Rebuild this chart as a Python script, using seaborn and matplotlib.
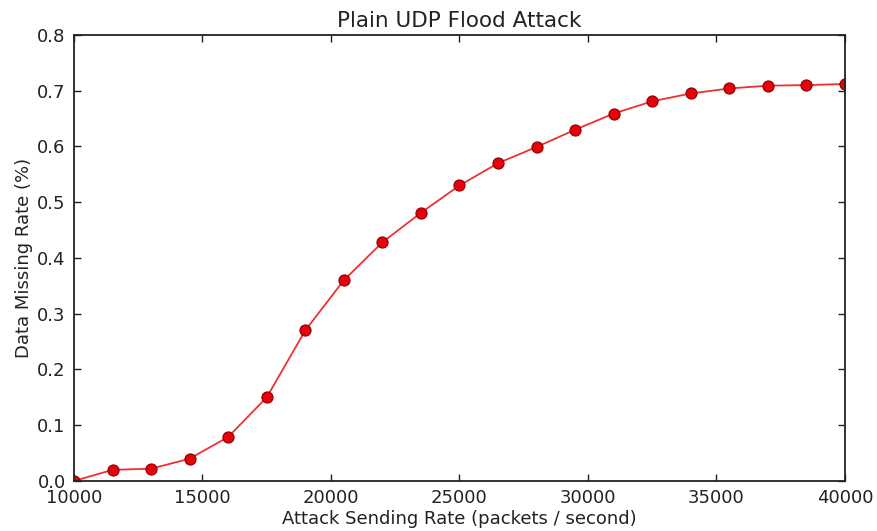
import matplotlib
matplotlib.use("Agg")
import matplotlib.pyplot as plt
import seaborn as sns
import pandas as pd

rate = [10000, 11500, 13000, 14500, 16000, 17500, 19000, 20500, 22000, 23500,
        25000, 26500, 28000, 29500, 31000, 32500, 34000, 35500, 37000, 38500, 40000]
missing = [0.0, 0.02, 0.022, 0.04, 0.079, 0.15, 0.27, 0.36, 0.428, 0.481,
           0.53, 0.57, 0.599, 0.63, 0.659, 0.681, 0.695, 0.704, 0.709, 0.710, 0.712]
xticks = [10000, 15000, 20000, 25000, 30000, 35000, 40000]
yticks = [0.0, 0.1, 0.2, 0.3, 0.4, 0.5, 0.6, 0.7, 0.8]

sns.set_style("ticks")
plt.rcParams['font.family'] = ['DejaVu Sans']

df = pd.DataFrame({"rate": rate, "missing": missing})

fig = plt.figure(figsize=(8.78, 5.31), dpi=100)
ax = fig.add_axes([0.0843, 0.0942, 0.878, 0.840])
sns.lineplot(data=df, x="rate", y="missing", ax=ax, color="#f03030", linewidth=1.3,
             marker="o", markersize=8, markerfacecolor="#e8000b",
             markeredgecolor="#8b0000", markeredgewidth=0.8)

ax.set_xlim(10000, 40000)
ax.set_ylim(0, 0.8)
ax.set_xticks(xticks)
ax.set_xticklabels([str(t) for t in xticks])
ax.set_yticks(yticks)
ax.set_yticklabels([f"{t:.1f}" for t in yticks])
ax.tick_params(direction="in", top=True, right=True, length=5, width=1,
               labelsize=13, colors="#222222", pad=6)
for s in ax.spines.values():
    s.set_linewidth(1.3)
    s.set_color("#222222")
ax.set_xlabel("Attack Sending Rate (packets / second)", fontsize=13, color="#222222", labelpad=2)
ax.set_ylabel("Data Missing Rate (%)", fontsize=13, color="#222222", labelpad=3)
ax.set_title("Plain UDP Flood Attack", fontsize=15.5, color="#222222", pad=6)

fig.savefig("out.png", dpi=100, facecolor="white")
